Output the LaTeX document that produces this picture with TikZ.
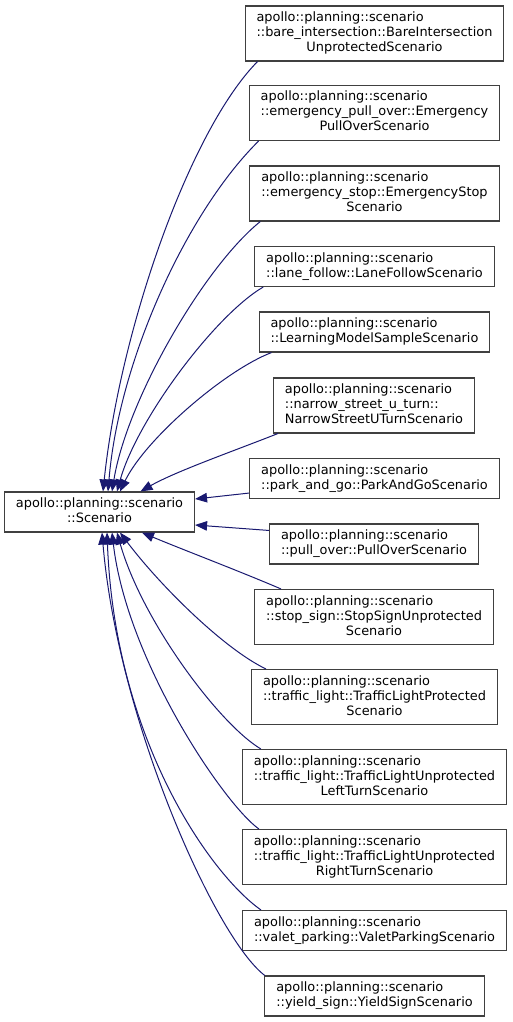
\documentclass[tikz,border=0pt]{standalone}
\usepackage{fontspec}
\setmainfont{DejaVu Sans}
\usetikzlibrary{arrows.meta}

\definecolor{edgeblue}{HTML}{191970}
\definecolor{boxgray}{HTML}{404040}

\newcommand{\twoline}[2]{\begin{tabular}{@{}l@{}}#1\\\multicolumn{1}{@{}c@{}}{#2}\end{tabular}}
\newcommand{\threeline}[3]{\begin{tabular}{@{}l@{}}#1\\#2\\\multicolumn{1}{@{}c@{}}{#3}\end{tabular}}

\begin{document}
\begin{tikzpicture}[x=1pt, y=-1pt,
    font=\fontsize{12.9}{15}\selectfont,
    cls/.style={rectangle, draw=boxgray, line width=1.1pt, fill=white, inner xsep=11.5pt, inner ysep=5pt},
    inh/.style={draw=edgeblue, line width=1pt, -{Triangle[length=12pt, width=9.5pt]}}]
    \useasboundingbox (0,0) rectangle (512,1022);

    \node[cls] (base) at (99.5,512) {\twoline{apollo::planning::scenario}{::Scenario}};

    \node[cls] (bare) at (374.5,33.5) {\threeline{apollo::planning::scenario}{::bare\_intersection::BareIntersection}{UnprotectedScenario}};
    \node[cls] (epo) at (374.5,113) {\threeline{apollo::planning::scenario}{::emergency\_pull\_over::Emergency}{PullOverScenario}};
    \node[cls] (estop) at (374.5,193.5) {\threeline{apollo::planning::scenario}{::emergency\_stop::EmergencyStop}{Scenario}};
    \node[cls] (lane) at (374.5,266.5) {\twoline{apollo::planning::scenario}{::lane\_follow::LaneFollowScenario}};
    \node[cls] (learn) at (374.5,332) {\twoline{apollo::planning::scenario}{::LearningModelSampleScenario}};
    \node[cls] (narrow) at (374,405.5) {\threeline{apollo::planning::scenario}{::narrow\_street\_u\_turn::}{NarrowStreetUTurnScenario}};
    \node[cls] (park) at (374.5,478.5) {\twoline{apollo::planning::scenario}{::park\_and\_go::ParkAndGoScenario}};
    \node[cls] (pull) at (374,544) {\twoline{apollo::planning::scenario}{::pull\_over::PullOverScenario}};
    \node[cls] (stop) at (374,617) {\threeline{apollo::planning::scenario}{::stop\_sign::StopSignUnprotected}{Scenario}};
    \node[cls] (tlp) at (374.5,697) {\threeline{apollo::planning::scenario}{::traffic\_light::TrafficLightProtected}{Scenario}};
    \node[cls] (tll) at (374.5,777) {\threeline{apollo::planning::scenario}{::traffic\_light::TrafficLightUnprotected}{LeftTurnScenario}};
    \node[cls] (tlr) at (374.5,857) {\threeline{apollo::planning::scenario}{::traffic\_light::TrafficLightUnprotected}{RightTurnScenario}};
    \node[cls] (valet) at (374.5,930.5) {\twoline{apollo::planning::scenario}{::valet\_parking::ValetParkingScenario}};
    \node[cls] (yield) at (374.5,996) {\twoline{apollo::planning::scenario}{::yield\_sign::YieldSignScenario}};

    % edges into the top of the base class
    \draw[inh] ([xshift=13pt]bare.south west) .. controls +(-68,69) and +(17,-162) .. ([xshift=3.5pt]base.north);
    \draw[inh] ([xshift=10pt]epo.south west) .. controls +(-71,70) and +(11,-132) .. ([xshift=8.5pt]base.north);
    \draw[inh] ([xshift=11pt]estop.south west) .. controls +(-56,45) and +(15,-92) .. ([xshift=12.5pt]base.north);
    \draw[inh] ([xshift=9pt]lane.south west) .. controls +(-48,28) and +(20,-72) .. ([xshift=17.5pt]base.north);
    \draw[inh] ([xshift=13pt]learn.south west) .. controls +(-47,18) and +(25,-52) .. ([xshift=20.5pt]base.north);
    \draw[inh] ([xshift=5pt]narrow.south west) .. controls +(-43,17) and +(35,-20) .. ([xshift=41pt]base.north);

    % edges into the side
    \draw[inh] ([yshift=6pt]park.south west) -- ([yshift=13pt]base.east);
    \draw[inh] ([yshift=-7pt]pull.north west) -- ([yshift=-13pt]base.east);

    % edges into the bottom
    \draw[inh] ([xshift=27pt]stop.north west) .. controls +(-42,-18) and +(38,16) .. ([xshift=42.5pt]base.south);
    \draw[inh] ([xshift=15pt]tlp.north west) .. controls +(-42,-20) and +(40,53) .. ([xshift=20.5pt]base.south);
    \draw[inh] ([xshift=19pt]tll.north west) .. controls +(-42,-25) and +(25,88) .. ([xshift=17.5pt]base.south);
    \draw[inh] ([xshift=17pt]tlr.north west) .. controls +(-35,-25) and +(15,128) .. ([xshift=12.5pt]base.south);
    \draw[inh] ([xshift=19pt]valet.north west) .. controls +(-50,-35) and +(8,208) .. ([xshift=7.5pt]base.south);
    \draw[inh] ([xshift=0.5pt]yield.north west) .. controls +(-49,-37) and +(16,188) .. ([xshift=2.5pt]base.south);
\end{tikzpicture}
\end{document}
